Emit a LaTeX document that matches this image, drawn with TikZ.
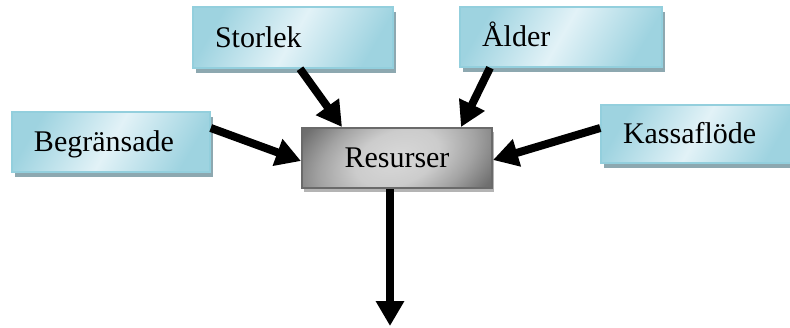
\documentclass[tikz,border=0pt]{standalone}
\usepackage{fontspec}
\setmainfont{Liberation Serif}
\usetikzlibrary{arrows.meta,shadows,calc}

\definecolor{boxlight}{HTML}{E2F2F7}
\definecolor{boxdark}{HTML}{9ED3E0}
\definecolor{boxedge}{HTML}{93CFDD}
\definecolor{boxshadow}{HTML}{8DA8B0}
\definecolor{coreedge}{HTML}{6A6A6A}
\definecolor{coreshadow}{HTML}{B4B4B4}

% grey fill of the central box: light middle, darker towards the corners
\pgfdeclareradialshading{coreshade}{\pgfpoint{0bp}{0bp}}{%
  gray(0bp)=(0.85); gray(14bp)=(0.80); gray(26bp)=(0.64);
  gray(38bp)=(0.44); gray(50bp)=(0.36)}

\tikzset{
  factor/.style={
    shading=axis, left color=boxdark, right color=boxdark, middle color=boxlight,
    shading angle=60, draw=boxedge, line width=1.5pt,
    general shadow={fill=boxshadow, shadow xshift=3pt, shadow yshift=-5pt},
    inner xsep=22pt, inner ysep=0pt, align=left,
    text height=22pt, text depth=3pt,
    font=\fontsize{30}{35}\selectfont
  },
  core/.style={
    shading=coreshade, shading angle=20,
    draw=coreedge, line width=2pt,
    general shadow={fill=coreshadow, shadow xshift=2pt, shadow yshift=-4pt},
    inner sep=0pt, minimum width=190pt, minimum height=60pt,
    text height=22pt, text depth=3pt,
    font=\fontsize{30}{35}\selectfont
  },
  flow/.style={line width=8pt, -{Triangle[length=25pt,width=27pt]}}
}

\begin{document}
\begin{tikzpicture}[x=1pt,y=-1pt]
  \useasboundingbox (0,0) rectangle (790,327);

  % the four factors around the central resource box
  \node[factor, text width=156pt, minimum height=61pt] (storlek) at (293,37.5) {Storlek};
  \node[factor, text width=158pt, minimum height=60pt] (alder)   at (561,37)   {Ålder};
  \node[factor, text width=154pt, minimum height=60pt] (begr)    at (111,142)  {Begränsade};
  \node[factor, text width=150pt, minimum height=58pt] (kassa)   at (698,134)  {Kassaflöde};

  \node[core] (resurser) at (397,158) {Resurser};

  \coordinate (out) at (390,326);

  % arrows into and out of the resource box
  \draw[flow] ($(storlek.south)+(7,0)$) -- ($(resurser.north west)+(41,0)$);
  \draw[flow] ($(alder.south)+(-71,0)$) -- ($(resurser.north east)+(-32,0)$);
  \draw[flow] ($(begr.east)+(0,-14)$)   -- ($(resurser.west)+(0,3)$);
  \draw[flow] ($(kassa.west)+(0,-6)$)   -- ($(resurser.east)+(0,2)$);
  \draw[flow] (resurser.south -| out)   -- (out);
\end{tikzpicture}
\end{document}
